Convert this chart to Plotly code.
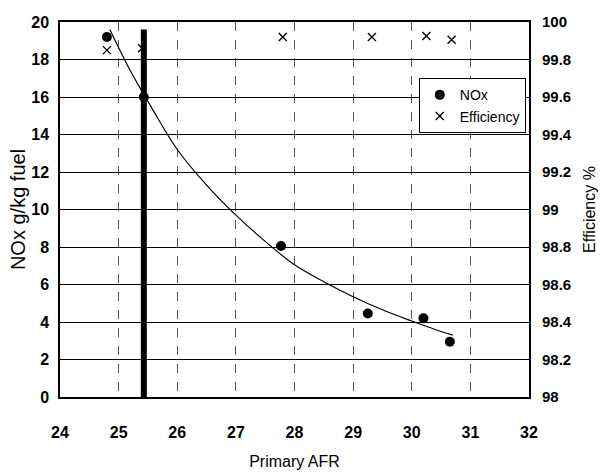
import plotly.graph_objects as go

# NOx measurements
afr_nox = [24.8, 25.43, 27.77, 29.25, 30.2, 30.65]
nox = [19.2, 16.0, 8.05, 4.45, 4.2, 2.95]

# Efficiency measurements
afr_eff = [24.8, 25.4, 27.8, 29.32, 30.25, 30.68]
eff = [99.85, 99.86, 99.92, 99.92, 99.925, 99.905]

# Trend curve
afr_fit = [24.85, 25.2, 25.55, 26.0, 26.5, 27.0, 27.5, 28.0, 28.5, 29.0, 29.5, 30.0, 30.4, 30.7]
nox_fit = [19.6, 17.4, 15.5, 13.2, 11.3, 9.7, 8.3, 7.05, 6.15, 5.35, 4.65, 4.05, 3.6, 3.3]

# Reference line
ref_afr = 25.43
ref_span = [-0.2, 19.6]

x_ticks = [24, 25, 26, 27, 28, 29, 30, 31, 32]
y_ticks = [0, 2, 4, 6, 8, 10, 12, 14, 16, 18, 20]
y2_ticks = [98, 98.2, 98.4, 98.6, 98.8, 99, 99.2, 99.4, 99.6, 99.8, 100]
y2_labels = ["98", "98.2", "98.4", "98.6", "98.8", "99", "99.2", "99.4", "99.6", "99.8", "100"]

FONT = "Liberation Sans, Arial, sans-serif"

fig = go.Figure()

fig.add_trace(go.Scatter(
    x=[ref_afr, ref_afr], y=ref_span, mode="lines",
    line=dict(color="black", width=6), showlegend=False, hoverinfo="skip"))

fig.add_trace(go.Scatter(
    x=afr_fit, y=nox_fit, mode="lines", line=dict(color="black", width=1.2, shape="spline"),
    showlegend=False, hoverinfo="skip"))

fig.add_trace(go.Scatter(
    x=afr_nox, y=nox, mode="markers", name="NOx",
    marker=dict(symbol="circle", size=10, color="black")))

fig.add_trace(go.Scatter(
    x=afr_eff, y=eff, mode="markers", name="Efficiency", yaxis="y2",
    marker=dict(symbol="x-thin", size=8, color="black", line=dict(color="black", width=1.4))))

fig.update_layout(
    width=605, height=473,
    margin=dict(l=60, r=76, t=22, b=76, autoexpand=False),
    paper_bgcolor="white", plot_bgcolor="white",
    font=dict(family=FONT, color="black"),
    xaxis=dict(
        range=[24, 32], tickvals=x_ticks, showgrid=True, gridcolor="#555", griddash="dash",
        gridwidth=0.8, showline=True, linecolor="black", linewidth=1.5, mirror=True,
        ticks="", zeroline=False, ticklabelstandoff=20, automargin=False,
        tickfont=dict(size=16, family=FONT, weight="bold"),
        title=dict(text="Primary AFR", font=dict(size=16), standoff=16)),
    yaxis=dict(
        range=[0, 20], tickvals=y_ticks, showgrid=True, gridcolor="black", gridwidth=1.3,
        showline=True, linecolor="black", linewidth=1.5, mirror=True, ticks="",
        zeroline=False, ticklabelstandoff=6, automargin=False,
        tickfont=dict(size=16, family=FONT, weight="bold"),
        title=dict(text="NOx g/kg fuel", font=dict(size=20), standoff=0)),
    yaxis2=dict(
        range=[98, 100], tickvals=y2_ticks, ticktext=y2_labels, overlaying="y", side="right",
        showgrid=False, ticks="", zeroline=False, ticklabelstandoff=12, automargin=False,
        tickfont=dict(size=15, family=FONT, weight="bold"),
        title=dict(text="Efficiency %", font=dict(size=16), standoff=12)),
    legend=dict(
        x=0.765, y=0.85, xanchor="left", yanchor="top", bgcolor="white",
        bordercolor="black", borderwidth=1, font=dict(size=14), itemwidth=30,
        tracegroupgap=2),
    showlegend=True,
)

fig.write_html("out.html")
